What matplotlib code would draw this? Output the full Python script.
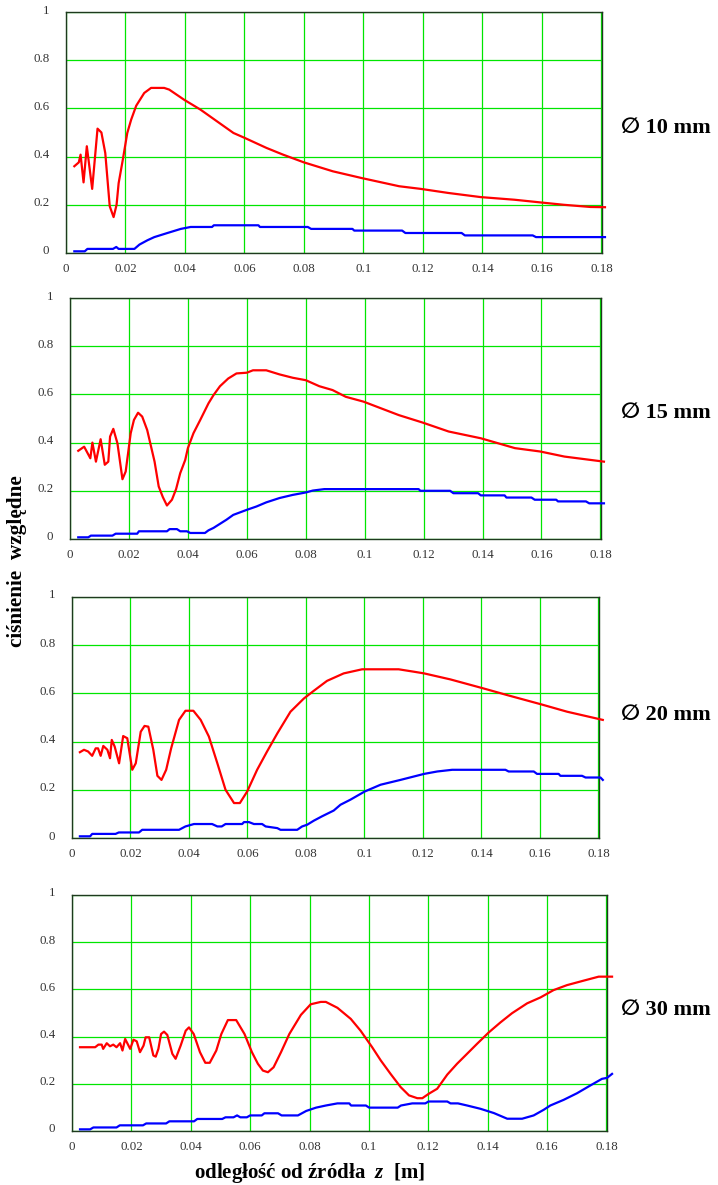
import numpy as np
import matplotlib
matplotlib.use("Agg")
import matplotlib.pyplot as plt
from matplotlib.transforms import ScaledTranslation

plt.rcParams['font.family'] = ['Liberation Serif', 'DejaVu Sans']
plt.rcParams['mathtext.fontset'] = 'custom'
plt.rcParams['mathtext.rm'] = 'Liberation Serif:bold'
plt.rcParams['mathtext.it'] = 'Liberation Serif:italic:bold'

# ---- dane ----
# srednica 10 mm
z10_red = [0.0028, 0.0043, 0.0049, 0.0059, 0.0070, 0.0088, 0.0106, 0.0119, 0.0132, 0.0147,
           0.0160, 0.0170, 0.0177, 0.0191, 0.0206, 0.0219, 0.0236, 0.0263, 0.0286, 0.0330,
           0.0347, 0.0397, 0.0452, 0.0508, 0.0563, 0.0600, 0.0674, 0.0730, 0.0800, 0.0897,
           0.0994, 0.1120, 0.1193, 0.1286, 0.1394, 0.1508, 0.1594, 0.1674, 0.1763, 0.1812]
p10_red = [0.360, 0.376, 0.408, 0.293, 0.443, 0.266, 0.516, 0.500, 0.415, 0.194,
           0.149, 0.200, 0.290, 0.387, 0.498, 0.553, 0.611, 0.664, 0.685, 0.685,
           0.678, 0.636, 0.595, 0.546, 0.498, 0.478, 0.436, 0.408, 0.376, 0.339,
           0.311, 0.277, 0.266, 0.249, 0.232, 0.221, 0.210, 0.200, 0.191, 0.190]
z10_blue = [0.0028, 0.0063, 0.0072, 0.0158, 0.0169, 0.0177, 0.0230, 0.0247, 0.0274, 0.0297,
            0.0341, 0.0386, 0.0419, 0.0491, 0.0497, 0.0647, 0.0652, 0.0813, 0.0824, 0.0963,
            0.0969, 0.1130, 0.1141, 0.1330, 0.1341, 0.1569, 0.1580, 0.1812]
p10_blue = [0.007, 0.007, 0.017, 0.017, 0.025, 0.017, 0.017, 0.035, 0.053, 0.066,
            0.083, 0.100, 0.108, 0.108, 0.115, 0.115, 0.108, 0.108, 0.100, 0.100,
            0.093, 0.093, 0.083, 0.083, 0.073, 0.073, 0.066, 0.066]

# srednica 15 mm
z15_red = [0.0028, 0.0048, 0.0069, 0.0076, 0.0088, 0.0104, 0.0118, 0.0130, 0.0136, 0.0147,
           0.0161, 0.0178, 0.0189, 0.0206, 0.0217, 0.0231, 0.0245, 0.0262, 0.0287, 0.0301,
           0.0315, 0.0329, 0.0346, 0.0360, 0.0374, 0.0391, 0.0400, 0.0419, 0.0442, 0.0470,
           0.0487, 0.0509, 0.0537, 0.0565, 0.0600, 0.0621, 0.0666, 0.0711, 0.0756, 0.0800,
           0.0846, 0.0891, 0.0936, 0.0996, 0.1116, 0.1197, 0.1285, 0.1394, 0.1510, 0.1596,
           0.1678, 0.1812]
p15_red = [0.366, 0.383, 0.335, 0.400, 0.321, 0.414, 0.308, 0.321, 0.425, 0.457,
           0.397, 0.248, 0.280, 0.439, 0.494, 0.524, 0.508, 0.452, 0.321, 0.218,
           0.174, 0.139, 0.163, 0.207, 0.273, 0.328, 0.377, 0.439, 0.494, 0.563,
           0.597, 0.634, 0.666, 0.687, 0.690, 0.700, 0.700, 0.683, 0.669, 0.659,
           0.634, 0.618, 0.590, 0.570, 0.514, 0.483, 0.446, 0.418, 0.377, 0.363,
           0.342, 0.321]
z15_blue = [0.0028, 0.0062, 0.0071, 0.0144, 0.0155, 0.0228, 0.0234, 0.0329, 0.0338, 0.0363,
            0.0374, 0.0397, 0.0408, 0.0458, 0.0470, 0.0487, 0.0509, 0.0531, 0.0554, 0.0600,
            0.0633, 0.0666, 0.0711, 0.0756, 0.0800, 0.0824, 0.0863, 0.1183, 0.1189, 0.1290,
            0.1301, 0.1385, 0.1394, 0.1475, 0.1481, 0.1566, 0.1577, 0.1650, 0.1656, 0.1751,
            0.1762, 0.1812]
p15_blue = [0.007, 0.007, 0.014, 0.014, 0.022, 0.022, 0.032, 0.032, 0.041, 0.041,
            0.032, 0.032, 0.025, 0.025, 0.036, 0.046, 0.063, 0.080, 0.100, 0.121,
            0.135, 0.152, 0.170, 0.183, 0.193, 0.201, 0.207, 0.207, 0.200, 0.200,
            0.190, 0.190, 0.181, 0.181, 0.172, 0.172, 0.163, 0.163, 0.156, 0.156,
            0.148, 0.148]

# srednica 20 mm
z20_red = [0.0027, 0.0041, 0.0055, 0.0069, 0.0081, 0.0089, 0.0098, 0.0107, 0.0121, 0.0130,
           0.0136, 0.0146, 0.0161, 0.0175, 0.0189, 0.0206, 0.0218, 0.0235, 0.0248, 0.0261,
           0.0278, 0.0292, 0.0306, 0.0322, 0.0339, 0.0366, 0.0388, 0.0415, 0.0440, 0.0468,
           0.0497, 0.0525, 0.0554, 0.0574, 0.0599, 0.0633, 0.0667, 0.0702, 0.0747, 0.0793,
           0.0827, 0.0872, 0.0929, 0.0992, 0.1117, 0.1169, 0.1204, 0.1294, 0.1406, 0.1488,
           0.1606, 0.1693, 0.1815]
p20_red = [0.356, 0.366, 0.359, 0.341, 0.372, 0.372, 0.341, 0.382, 0.366, 0.331,
           0.407, 0.379, 0.310, 0.423, 0.414, 0.283, 0.310, 0.441, 0.465, 0.462,
           0.366, 0.258, 0.241, 0.283, 0.372, 0.490, 0.528, 0.528, 0.490, 0.421,
           0.310, 0.200, 0.145, 0.145, 0.193, 0.283, 0.359, 0.434, 0.524, 0.579,
           0.611, 0.652, 0.683, 0.700, 0.700, 0.690, 0.683, 0.658, 0.621, 0.593,
           0.554, 0.524, 0.490]
z20_blue = [0.0027, 0.0062, 0.0069, 0.0149, 0.0160, 0.0229, 0.0240, 0.0366, 0.0388, 0.0417,
            0.0479, 0.0497, 0.0512, 0.0525, 0.0582, 0.0588, 0.0605, 0.0622, 0.0650, 0.0662,
            0.0702, 0.0713, 0.0770, 0.0787, 0.0804, 0.0827, 0.0855, 0.0895, 0.0918, 0.0952,
            0.1001, 0.1055, 0.1123, 0.1204, 0.1249, 0.1300, 0.1482, 0.1493, 0.1579, 0.1590,
            0.1664, 0.1670, 0.1744, 0.1756, 0.1807, 0.1815]
p20_blue = [0.007, 0.007, 0.017, 0.017, 0.023, 0.023, 0.034, 0.034, 0.048, 0.058,
            0.058, 0.048, 0.048, 0.058, 0.058, 0.066, 0.066, 0.058, 0.058, 0.048,
            0.041, 0.034, 0.034, 0.048, 0.055, 0.072, 0.090, 0.114, 0.138, 0.159,
            0.193, 0.221, 0.241, 0.266, 0.276, 0.283, 0.283, 0.276, 0.276, 0.266,
            0.266, 0.258, 0.258, 0.251, 0.251, 0.241]

# srednica 30 mm
z30_red = [0.0027, 0.0078, 0.0089, 0.0100, 0.0105, 0.0117, 0.0128, 0.0139, 0.0150, 0.0162,
           0.0170, 0.0179, 0.0196, 0.0207, 0.0218, 0.0229, 0.0241, 0.0248, 0.0260, 0.0274,
           0.0282, 0.0291, 0.0300, 0.0310, 0.0321, 0.0338, 0.0349, 0.0366, 0.0383, 0.0394,
           0.0410, 0.0431, 0.0449, 0.0464, 0.0486, 0.0503, 0.0525, 0.0553, 0.0581, 0.0606,
           0.0626, 0.0643, 0.0660, 0.0679, 0.0704, 0.0732, 0.0771, 0.0804, 0.0838, 0.0855,
           0.0894, 0.0939, 0.0972, 0.1011, 0.1040, 0.1073, 0.1107, 0.1135, 0.1163, 0.1180,
           0.1202, 0.1230, 0.1264, 0.1297, 0.1325, 0.1364, 0.1404, 0.1443, 0.1482, 0.1533,
           0.1578, 0.1622, 0.1667, 0.1723, 0.1774, 0.1819]
p30_red = [0.355, 0.355, 0.366, 0.366, 0.348, 0.372, 0.359, 0.366, 0.355, 0.372,
           0.341, 0.390, 0.348, 0.387, 0.380, 0.334, 0.362, 0.397, 0.397, 0.320,
           0.315, 0.348, 0.411, 0.421, 0.407, 0.327, 0.306, 0.362, 0.425, 0.439,
           0.411, 0.334, 0.289, 0.289, 0.341, 0.411, 0.470, 0.470, 0.411, 0.334,
           0.285, 0.256, 0.249, 0.270, 0.334, 0.411, 0.492, 0.537, 0.547, 0.547,
           0.522, 0.475, 0.425, 0.355, 0.299, 0.242, 0.186, 0.151, 0.139, 0.139,
           0.158, 0.179, 0.239, 0.285, 0.320, 0.369, 0.418, 0.460, 0.499, 0.541,
           0.566, 0.597, 0.618, 0.637, 0.654, 0.654]
z30_blue = [0.0027, 0.0061, 0.0072, 0.0150, 0.0161, 0.0239, 0.0250, 0.0317, 0.0328, 0.0411,
            0.0422, 0.0506, 0.0517, 0.0544, 0.0556, 0.0567, 0.0589, 0.0600, 0.0639, 0.0648,
            0.0694, 0.0706, 0.0761, 0.0789, 0.0822, 0.0855, 0.0894, 0.0934, 0.0940, 0.0990,
            0.1001, 0.1097, 0.1108, 0.1146, 0.1190, 0.1201, 0.1264, 0.1275, 0.1300, 0.1331,
            0.1376, 0.1421, 0.1466, 0.1516, 0.1555, 0.1589, 0.1611, 0.1656, 0.1701, 0.1746,
            0.1785, 0.1802, 0.1819]
p30_blue = [0.007, 0.007, 0.015, 0.015, 0.024, 0.024, 0.032, 0.032, 0.041, 0.041,
            0.051, 0.051, 0.058, 0.058, 0.066, 0.058, 0.058, 0.066, 0.066, 0.075,
            0.075, 0.066, 0.066, 0.085, 0.099, 0.108, 0.117, 0.117, 0.108, 0.108,
            0.099, 0.099, 0.108, 0.117, 0.117, 0.125, 0.125, 0.117, 0.117, 0.108,
            0.094, 0.076, 0.052, 0.052, 0.066, 0.090, 0.108, 0.132, 0.160, 0.193,
            0.221, 0.225, 0.242]

srednice = ["10", "15", "20", "30"]
red_z = [z10_red, z15_red, z20_red, z30_red]
red_p = [p10_red, p15_red, p20_red, p30_red]
blue_z = [z10_blue, z15_blue, z20_blue, z30_blue]
blue_p = [p10_blue, p15_blue, p20_blue, p30_blue]

x_ticks = [0, 0.02, 0.04, 0.06, 0.08, 0.1, 0.12, 0.14, 0.16, 0.18]
x_labels = ["0", "0.02", "0.04", "0.06", "0.08", "0.1", "0.12", "0.14", "0.16", "0.18"]
y_ticks = [0, 0.2, 0.4, 0.6, 0.8, 1]
y_labels = ["0", "0.2", "0.4", "0.6", "0.8", "1"]

# ---- uklad (piksele) ----
W, H = 718, 1185
boxes = [(66, 602, 12, 253), (70, 601, 298, 539), (72, 599, 597, 838), (72, 607, 895, 1131)]
label_y = [128, 413, 715, 1010]

fig = plt.figure(figsize=(W / 100, H / 100), dpi=100)

for i in range(4):
    l, r, t, b = boxes[i]
    ax = fig.add_axes([l / W, 1 - b / H, (r - l) / W, (b - t) / H])
    ax.plot(red_z[i], red_p[i], color="#ff0000", lw=1.6, clip_on=False, zorder=4)
    ax.plot(blue_z[i], blue_p[i], color="#0000ff", lw=1.6, clip_on=False, zorder=3)
    ax.set_xlim(0, 0.1802)
    ax.set_ylim(0, 1)
    ax.set_xticks(x_ticks)
    ax.set_xticklabels(x_labels)
    ax.set_yticks(y_ticks)
    ax.set_yticklabels(y_labels)
    ax.grid(True, color="#00e600", lw=0.9)
    ax.set_axisbelow(True)
    ax.tick_params(length=0, labelsize=9.3, labelcolor="#333333")
    ax.tick_params(axis="x", pad=7)
    ax.tick_params(axis="y", pad=12)
    for lab in ax.get_yticklabels():
        lab.set_transform(lab.get_transform() + ScaledTranslation(0, 3 / 100, fig.dpi_scale_trans))
    for s in ax.spines.values():
        s.set_color("#1e3a1e")
        s.set_linewidth(1.0)

    # opis srednicy po prawej
    fig.text(666 / W, 1 - label_y[i] / H, "\u2205 " + srednice[i] + " mm",
             ha="center", va="center", fontsize=16, fontweight="bold",
             family=["Liberation Serif", "DejaVu Sans"])

fig.text(17 / W, 1 - 561 / H, "ciśnienie  względne", rotation=90,
         ha="center", va="center", fontsize=15.3, fontweight="bold")
fig.text(310 / W, 1 - 1173 / H, r"odległość od źródła  $z$  [m]",
         ha="center", va="center", fontsize=15, fontweight="bold")

fig.savefig("out.png", dpi=100)
